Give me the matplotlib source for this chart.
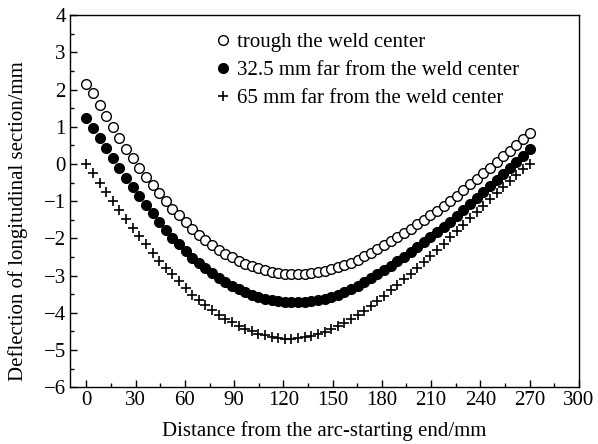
import matplotlib
matplotlib.use('Agg')
import matplotlib.pyplot as plt
from matplotlib.ticker import MultipleLocator

# Distance from the arc-starting end (mm)
distance = [0.0, 4.0, 8.1, 12.1, 16.1, 20.1, 24.2, 28.2, 32.2, 36.3,
            40.3, 44.3, 48.4, 52.4, 56.4, 60.4, 64.5, 68.5, 72.5, 76.6,
            80.6, 84.6, 88.7, 92.7, 96.7, 100.7, 104.8, 108.8, 112.8, 116.9,
            120.9, 124.9, 129.0, 133.0, 137.0, 141.0, 145.1, 149.1, 153.1, 157.2,
            161.2, 165.2, 169.3, 173.3, 177.3, 181.3, 185.4, 189.4, 193.4, 197.5,
            201.5, 205.5, 209.6, 213.6, 217.6, 221.6, 225.7, 229.7, 233.7, 237.8,
            241.8, 245.8, 249.9, 253.9, 257.9, 261.9, 266.0, 270.0]

# Deflection (mm) along the weld center
center = [2.14, 1.90, 1.59, 1.29, 0.98, 0.69, 0.41, 0.15, -0.10, -0.35,
          -0.57, -0.79, -1.00, -1.20, -1.38, -1.56, -1.74, -1.90, -2.05, -2.18,
          -2.30, -2.41, -2.51, -2.60, -2.68, -2.75, -2.81, -2.86, -2.90, -2.93,
          -2.95, -2.96, -2.96, -2.95, -2.93, -2.90, -2.87, -2.83, -2.78, -2.72,
          -2.65, -2.57, -2.48, -2.39, -2.29, -2.19, -2.08, -1.97, -1.86, -1.74,
          -1.62, -1.50, -1.38, -1.26, -1.13, -0.99, -0.85, -0.70, -0.55, -0.40,
          -0.25, -0.10, 0.05, 0.20, 0.35, 0.51, 0.67, 0.84]

# 32.5 mm from the weld center
off_32 = [1.24, 0.97, 0.69, 0.42, 0.15, -0.10, -0.37, -0.62, -0.87, -1.11,
          -1.33, -1.56, -1.78, -1.98, -2.16, -2.34, -2.52, -2.67, -2.81, -2.94,
          -3.06, -3.17, -3.27, -3.36, -3.44, -3.51, -3.57, -3.62, -3.66, -3.69,
          -3.71, -3.72, -3.72, -3.71, -3.69, -3.66, -3.62, -3.57, -3.51, -3.44,
          -3.36, -3.27, -3.17, -3.07, -2.96, -2.85, -2.73, -2.61, -2.49, -2.36,
          -2.23, -2.10, -1.97, -1.84, -1.70, -1.55, -1.40, -1.24, -1.08, -0.92,
          -0.76, -0.60, -0.44, -0.28, -0.12, 0.05, 0.22, 0.40]

# 65 mm from the weld center
off_65 = [0.00, -0.25, -0.50, -0.76, -1.00, -1.24, -1.47, -1.71, -1.93, -2.16,
          -2.39, -2.60, -2.79, -2.97, -3.16, -3.34, -3.51, -3.66, -3.80, -3.93,
          -4.05, -4.16, -4.26, -4.35, -4.43, -4.50, -4.56, -4.61, -4.65, -4.68,
          -4.70, -4.70, -4.69, -4.66, -4.62, -4.57, -4.51, -4.44, -4.36, -4.27,
          -4.17, -4.06, -3.94, -3.81, -3.68, -3.54, -3.40, -3.25, -3.10, -2.95,
          -2.79, -2.63, -2.47, -2.31, -2.14, -1.97, -1.80, -1.63, -1.46, -1.29,
          -1.12, -0.95, -0.78, -0.61, -0.45, -0.29, -0.14, 0.00]

labels = ['trough the weld center',
          '32.5 mm far from the weld center',
          '65 mm far from the weld center']

plt.rcParams['font.family'] = ['Liberation Serif', 'DejaVu Serif']
plt.rcParams['font.size'] = 15

fig = plt.figure(figsize=(5.98, 4.44), dpi=100)
ax = fig.add_axes([0.117, 0.128, 0.851, 0.838])

ax.plot(distance, center, 'o', mfc='white', mec='black', ms=7, mew=1.0, label=labels[0])
ax.plot(distance, off_32, 'o', mfc='black', mec='black', ms=7, mew=1.0, label=labels[1])
ax.plot(distance, off_65, '+', color='black', ms=7.5, mew=1.2, label=labels[2])

ax.set_xlim(-10, 300)
ax.set_ylim(-6, 4)
ax.xaxis.set_major_locator(MultipleLocator(30))
ax.xaxis.set_minor_locator(MultipleLocator(15))
ax.yaxis.set_major_locator(MultipleLocator(1))
ax.yaxis.set_minor_locator(MultipleLocator(0.5))
ax.tick_params(which='both', direction='in', top=False, right=False, labelsize=15)
ax.tick_params(which='major', length=5, width=1, pad=3)
ax.tick_params(which='minor', length=3, width=1)
for s in ax.spines.values():
    s.set_linewidth(1.0)

ax.set_xlabel('Distance from the arc-starting end/mm', fontsize=15, labelpad=8)
ax.set_ylabel('Deflection of longitudinal section/mm', fontsize=15)
ax.yaxis.set_label_coords(-0.083, 0.445)

ax.legend(loc='upper left', bbox_to_anchor=(0.264, 0.987), frameon=False,
          handlelength=0.6, handletextpad=0.36, labelspacing=0.40, fontsize=15,
          borderaxespad=0.2)

fig.savefig('out.png', dpi=100)
